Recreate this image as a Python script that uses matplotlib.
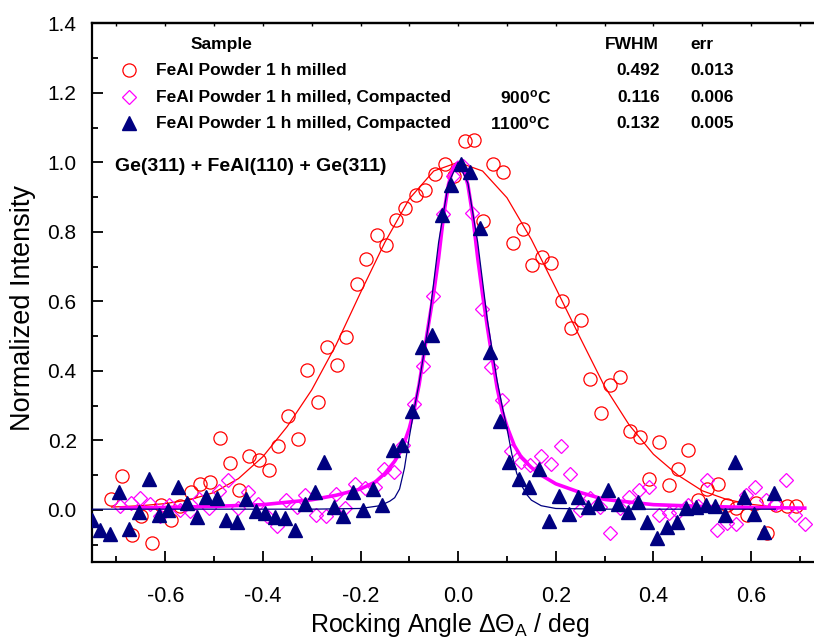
'''
rocking curves of FeAl(110) - Ge(311) double crystal setup
'''
import matplotlib
matplotlib.use('Agg')
import matplotlib.pyplot as plt
from matplotlib.ticker import MultipleLocator

plt.rcParams['font.family'] = ['Liberation Sans', 'DejaVu Sans']
plt.rcParams['mathtext.fontset'] = 'custom'
plt.rcParams['mathtext.rm'] = 'Liberation Sans'
plt.rcParams['mathtext.it'] = 'Liberation Sans:italic'
plt.rcParams['mathtext.bf'] = 'Liberation Sans:bold'

# FeAl powder 1 h milled (open red circles)
powder_x = [-0.711, -0.688, -0.668, -0.649, -0.628, -0.608, -0.589, -0.570, -0.548, -0.529,
            -0.509, -0.488, -0.468, -0.449, -0.428, -0.408, -0.388, -0.369, -0.348, -0.329,
            -0.309, -0.288, -0.268, -0.249, -0.229, -0.208, -0.188, -0.167, -0.148, -0.128,
            -0.108, -0.087, -0.067, -0.048, -0.027, -0.008, 0.014, 0.033, 0.051, 0.072,
            0.092, 0.112, 0.133, 0.152, 0.171, 0.191, 0.212, 0.232, 0.251, 0.271,
            0.292, 0.312, 0.331, 0.352, 0.372, 0.391, 0.411, 0.432, 0.451, 0.471,
            0.492, 0.509, 0.532, 0.551, 0.570, 0.591, 0.611, 0.632, 0.652, 0.673, 0.693]
powder_y = [0.031, 0.097, -0.071, -0.017, -0.095, 0.014, -0.029, 0.011, 0.052, 0.074,
            0.081, 0.208, 0.135, 0.057, 0.154, 0.143, 0.116, 0.183, 0.269, 0.205,
            0.402, 0.310, 0.469, 0.416, 0.497, 0.649, 0.722, 0.792, 0.762, 0.833,
            0.870, 0.905, 0.920, 0.967, 0.995, 0.960, 1.060, 1.065, 0.830, 0.994,
            0.971, 0.769, 0.807, 0.705, 0.727, 0.709, 0.600, 0.524, 0.546, 0.376,
            0.279, 0.360, 0.383, 0.227, 0.210, 0.090, 0.195, 0.071, 0.119, 0.173,
            0.029, 0.059, 0.073, 0.014, 0.005, -0.014, 0.019, -0.067, 0.014, 0.011, 0.011]

# compacted at 900 C (open magenta diamonds)
c900_x = [-0.692, -0.671, -0.652, -0.632, -0.611, -0.592, -0.570, -0.550, -0.531, -0.510,
          -0.490, -0.471, -0.451, -0.430, -0.410, -0.391, -0.371, -0.352, -0.331, -0.313,
          -0.292, -0.271, -0.251, -0.231, -0.212, -0.191, -0.171, -0.152, -0.132, -0.113,
          -0.091, -0.071, -0.051, -0.031, -0.011, 0.009, 0.028, 0.048, 0.068, 0.089,
          0.108, 0.128, 0.148, 0.169, 0.190, 0.210, 0.229, 0.249, 0.270, 0.290,
          0.311, 0.331, 0.350, 0.371, 0.391, 0.411, 0.432, 0.451, 0.471, 0.491,
          0.509, 0.530, 0.550, 0.569, 0.589, 0.609, 0.630, 0.650, 0.671, 0.690, 0.710]
c900_y = [0.011, 0.021, 0.033, 0.017, -0.019, 0.014, 0.000, -0.002, 0.031, 0.005,
          0.055, 0.086, 0.005, 0.052, 0.017, -0.019, -0.045, 0.029, 0.009, 0.043,
          -0.014, -0.017, 0.046, 0.005, 0.073, 0.062, 0.067, 0.119, 0.110, 0.186,
          0.305, 0.415, 0.615, 0.852, 0.960, 0.990, 0.855, 0.578, 0.411, 0.316,
          0.170, 0.138, 0.129, 0.154, 0.133, 0.183, 0.102, 0.000, 0.033, 0.008,
          -0.067, 0.005, 0.036, 0.057, 0.065, -0.014, -0.008, -0.005, 0.014, 0.010,
          0.086, -0.057, -0.038, -0.040, 0.043, 0.065, 0.029, 0.017, 0.086, -0.014, -0.040]

# compacted at 1100 C (filled navy triangles)
c1100_x = [-0.750, -0.734, -0.714, -0.695, -0.674, -0.654, -0.634, -0.613, -0.594, -0.574,
           -0.555, -0.535, -0.516, -0.494, -0.475, -0.454, -0.434, -0.415, -0.395, -0.376,
           -0.354, -0.335, -0.314, -0.294, -0.275, -0.255, -0.236, -0.215, -0.195, -0.174,
           -0.155, -0.134, -0.115, -0.095, -0.075, -0.054, -0.034, -0.014, 0.005, 0.025,
           0.045, 0.065, 0.085, 0.105, 0.125, 0.145, 0.166, 0.186, 0.207, 0.227,
           0.246, 0.266, 0.287, 0.306, 0.327, 0.347, 0.368, 0.386, 0.407, 0.427,
           0.448, 0.467, 0.487, 0.507, 0.527, 0.547, 0.567, 0.586, 0.606, 0.626, 0.647]
c1100_y = [-0.029, -0.057, -0.069, 0.052, -0.055, -0.007, 0.090, -0.014, 0.000, 0.065,
           0.021, -0.021, 0.036, 0.033, -0.030, -0.036, 0.032, -0.002, -0.008, -0.021,
           -0.024, -0.059, 0.017, 0.052, 0.138, 0.009, -0.019, 0.050, 0.000, 0.059,
           0.014, 0.173, 0.186, 0.285, 0.470, 0.503, 0.849, 0.935, 0.995, 0.971,
           0.810, 0.455, 0.255, 0.138, 0.090, 0.067, 0.119, -0.033, 0.041, -0.011,
           0.036, 0.008, 0.021, 0.057, 0.017, -0.005, 0.024, -0.036, -0.081, -0.048,
           -0.036, 0.005, 0.007, 0.014, 0.010, -0.014, 0.138, 0.038, -0.011, -0.065, 0.048]

# fitted curves
fit_powder_x = [-0.71, -0.65, -0.60, -0.55, -0.50, -0.45, -0.40, -0.35, -0.30, -0.25,
                -0.20, -0.15, -0.10, -0.05, 0.00, 0.05, 0.10, 0.15, 0.20, 0.25,
                0.30, 0.35, 0.40, 0.45, 0.50, 0.55, 0.60, 0.65, 0.69]
fit_powder_y = [0.008, 0.012, 0.018, 0.029, 0.050, 0.090, 0.153, 0.240, 0.345, 0.475,
                0.625, 0.770, 0.895, 0.975, 1.000, 0.975, 0.898, 0.778, 0.638, 0.495,
                0.355, 0.245, 0.160, 0.100, 0.055, 0.030, 0.016, 0.008, 0.005]

fit_900_x = [-0.69, -0.60, -0.50, -0.40, -0.30, -0.25, -0.20, -0.17, -0.15, -0.13,
             -0.115, -0.10, -0.09, -0.08, -0.07, -0.06, -0.05, -0.04, -0.03, -0.02,
             -0.01, 0.00, 0.01, 0.02, 0.03, 0.04, 0.05, 0.06, 0.07, 0.08,
             0.09, 0.10, 0.115, 0.13, 0.15, 0.17, 0.20, 0.25, 0.30, 0.40,
             0.50, 0.60, 0.71]
fit_900_y = [0.005, 0.007, 0.010, 0.015, 0.029, 0.042, 0.060, 0.080, 0.105, 0.140,
             0.175, 0.235, 0.290, 0.360, 0.450, 0.540, 0.625, 0.725, 0.845, 0.935,
             0.985, 1.000, 0.985, 0.935, 0.845, 0.725, 0.620, 0.525, 0.435, 0.350,
             0.285, 0.240, 0.185, 0.150, 0.122, 0.100, 0.075, 0.050, 0.030, 0.015,
             0.010, 0.007, 0.005]

fit_1100_x = [-0.75, -0.50, -0.30, -0.20, -0.16, -0.14, -0.13, -0.12, -0.11, -0.10,
              -0.09, -0.08, -0.06, -0.04, -0.02, 0.00, 0.02, 0.04, 0.06, 0.08,
              0.09, 0.10, 0.11, 0.12, 0.13, 0.14, 0.15, 0.17, 0.20, 0.30,
              0.50, 0.65]
fit_1100_y = [0.002, 0.002, 0.002, 0.004, 0.012, 0.025, 0.035, 0.060, 0.120, 0.210,
              0.290, 0.365, 0.540, 0.770, 0.940, 1.000, 0.940, 0.770, 0.545, 0.370,
              0.300, 0.235, 0.160, 0.105, 0.070, 0.045, 0.028, 0.012, 0.004, 0.002,
              0.002, 0.002]

x_ticks = [-0.6, -0.4, -0.2, 0.0, 0.2, 0.4, 0.6]
x_ticklabels = ['-0.6', '-0.4', '-0.2', '0.0', '0.2', '0.4', '0.6']
y_ticks = [0.0, 0.2, 0.4, 0.6, 0.8, 1.0, 1.2, 1.4]
y_ticklabels = ['0.0', '0.2', '0.4', '0.6', '0.8', '1.0', '1.2', '1.4']

RED = '#FF0000'
MAG = '#FF00FF'
NAVY = '#000080'

fig = plt.figure(figsize=(8.14, 6.39), dpi=100)
# right edge of the frame (x = 0.75) lies just outside the picture
ax = fig.add_axes([92 / 814, 1 - 562 / 639, 732.3 / 814, 538.7 / 639])

ax.plot(powder_x, powder_y, 'o', ms=9.5, mfc='none', mec=RED, mew=0.9, zorder=2)
ax.plot(fit_powder_x, fit_powder_y, '-', color=RED, lw=0.9, zorder=3)
ax.plot(c900_x, c900_y, 'D', ms=7.4, mfc='none', mec=MAG, mew=0.9, zorder=4)
ax.plot(fit_900_x, fit_900_y, '-', color=MAG, lw=2.6, zorder=5)
ax.plot(fit_1100_x, fit_1100_y, '-', color=NAVY, lw=0.9, zorder=6)
ax.plot(c1100_x, c1100_y, '^', ms=10.5, color=NAVY, mec=NAVY, zorder=7)

ax.set_xlim(-0.75, 0.75)
ax.set_ylim(-0.15, 1.4)

ax.xaxis.set_minor_locator(MultipleLocator(0.1))
ax.yaxis.set_minor_locator(MultipleLocator(0.1))
ax.set_xticks(x_ticks)
ax.set_xticklabels(x_ticklabels, fontsize=15.5)
ax.set_yticks(y_ticks)
ax.set_yticklabels(y_ticklabels, fontsize=15)

ax.tick_params(which='both', direction='in', width=1.3, top=False, right=False)
ax.tick_params(which='major', length=8)
ax.tick_params(which='minor', length=4)
ax.tick_params(axis='x', pad=17)
ax.tick_params(axis='y', pad=11)
for side in ['left', 'bottom', 'top']:
    ax.spines[side].set_linewidth(1.6)
ax.spines['right'].set_visible(False)

top = ax.secondary_xaxis('top')
top.set_xticks([-0.7, -0.6, -0.5, -0.4, -0.3, -0.2, -0.1, 0.0, 0.1, 0.2, 0.3, 0.4, 0.5, 0.6, 0.7])
top.tick_params(direction='in', length=2, width=1.0, labeltop=False)
top.spines['top'].set_linewidth(1.6)

ax.set_ylabel('Normalized Intensity', fontsize=19.5)
ax.yaxis.set_label_coords(-0.076, 0.4715)
ax.set_xlabel(r'Rocking Angle $\Delta\Theta_{\rm A}$ / deg', fontsize=18)
ax.xaxis.set_label_coords(0.489, -0.091)

# legend block drawn by hand, as in the original
tr = ax.transAxes
ax.text(0.134, 0.960, 'Sample', transform=tr, fontsize=12.5, fontweight='bold', va='center')
ax.text(0.774, 0.960, 'FWHM', transform=tr, fontsize=12.5, fontweight='bold', va='center', ha='right')
ax.text(0.817, 0.960, 'err', transform=tr, fontsize=12.5, fontweight='bold', va='center')

rows_y = [0.913, 0.863, 0.814]
labels = ['FeAl Powder 1 h milled',
          'FeAl Powder 1 h milled, Compacted',
          'FeAl Powder 1 h milled, Compacted']
temps = ['', r'900$^{\mathbf{o}}$C', r'1100$^{\mathbf{o}}$C']
fwhm = ['0.492', '0.116', '0.132']
err = ['0.013', '0.006', '0.005']

ax.plot([0.051], [rows_y[0]], 'o', ms=9.5, mfc='none', mec=RED, mew=0.9, transform=tr, clip_on=False)
ax.plot([0.051], [rows_y[1]], 'D', ms=7.4, mfc='none', mec=MAG, mew=0.9, transform=tr, clip_on=False)
ax.plot([0.051], [rows_y[2]], '^', ms=10.5, color=NAVY, transform=tr, clip_on=False)

for i in range(3):
    ax.text(0.088, rows_y[i], labels[i], transform=tr, fontsize=12.5, fontweight='bold', va='center')
    if temps[i]:
        ax.text(0.627, rows_y[i], temps[i], transform=tr, fontsize=12.5, fontweight='bold',
                va='center', ha='right')
    ax.text(0.776, rows_y[i], fwhm[i], transform=tr, fontsize=12.5, fontweight='bold',
            va='center', ha='right')
    ax.text(0.877, rows_y[i], err[i], transform=tr, fontsize=12.5, fontweight='bold',
            va='center', ha='right')

ax.text(0.031, 0.734, 'Ge(311) + FeAl(110) + Ge(311)', transform=tr, fontsize=14,
        fontweight='bold', va='center')

fig.savefig('out.png', dpi=100)
